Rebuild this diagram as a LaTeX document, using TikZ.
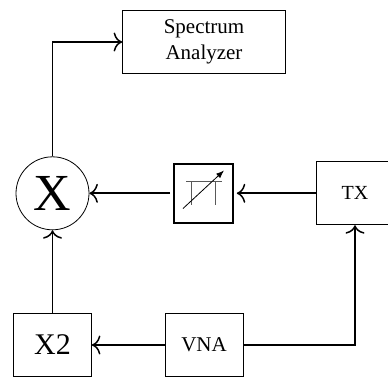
\documentclass[tikz,border=0pt]{standalone}
\usepackage{fontspec}
\setmainfont{Liberation Serif}
\usetikzlibrary{arrows.meta}
\tikzset{
  x=1pt,y=-1pt,
  blockbox/.style={draw,line width=0.8pt,minimum width=78pt,minimum height=63pt,inner sep=0pt,align=center},
  wire/.style={line width=1.7pt,-{Computer Modern Rightarrow[length=8.5pt,width=19pt,line width=1.5pt]}}
}
\begin{document}
\begin{tikzpicture}
\useasboundingbox[clip] (0,0) rectangle (388,376);
\node[blockbox,minimum width=163pt,font=\fontsize{21pt}{25.5pt}\selectfont] (sa) at (204,42) {Spectrum\\Analyzer};
\node[draw,circle,line width=0.8pt,minimum size=73pt,inner sep=0pt,font=\fontsize{52pt}{54pt}\selectfont] (mix) at (52.5,193.3) {X};
\node[draw,line width=1.6pt,minimum size=59pt,inner sep=0pt] (att) at (203.5,193.3) {};
\node[blockbox,font=\fontsize{20pt}{22pt}\selectfont] (tx) at (355,193.3) {TX};
\node[blockbox,font=\fontsize{30pt}{32pt}\selectfont] (x2) at (52.5,345) {X2};
\node[blockbox,font=\fontsize{21pt}{24pt}\selectfont] (vna) at (204,345) {VNA};
\coordinate (c1) at (52.5,42);
\coordinate (c2) at (355,345);
\draw[wire] (mix.north) -- (c1) -- (sa.west);
\draw[wire] ([xshift=-3pt]att.west) -- (mix.east);
\draw[wire] (tx.west) -- ([xshift=3pt]att.east);
\draw[wire] (x2.north) -- (mix.south);
\draw[wire] (vna.west) -- (x2.east);
\draw[wire] (vna.east) -- (c2) -- (tx.south);
% attenuator symbol
\draw[line width=0.8pt,gray!70!black] (186,181.5) -- (221.5,181.5) (191.5,181.5) -- (191.5,205) (215.5,181.5) -- (215.5,205);
\draw[line width=0.8pt,-{Latex[length=8pt,width=6pt]}] (183,208.5) -- (224,170.5);
\end{tikzpicture}
\end{document}
